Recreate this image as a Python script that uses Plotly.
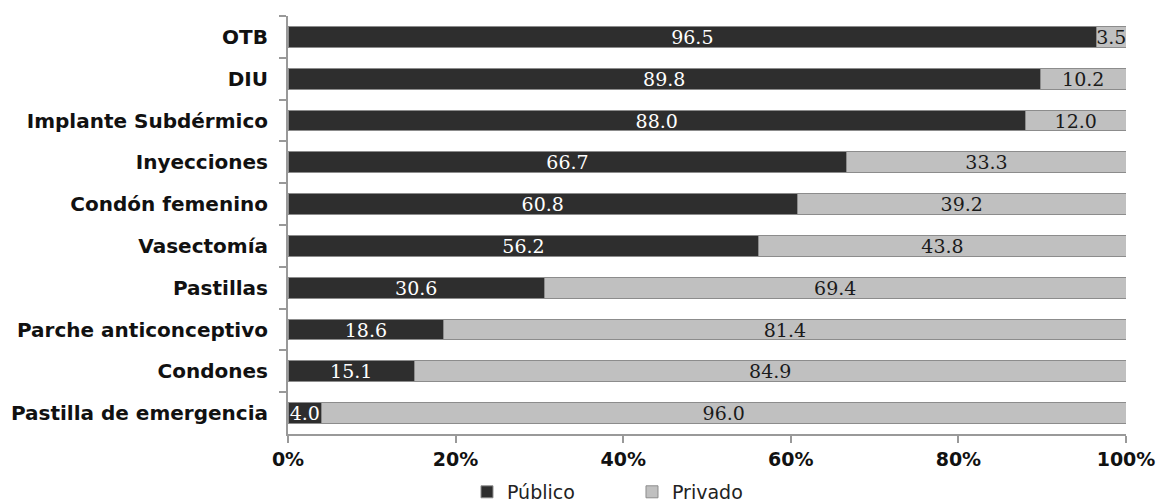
import plotly.graph_objects as go

categories = ["OTB", "DIU", "Implante Subdérmico", "Inyecciones", "Condón femenino",
              "Vasectomía", "Pastillas", "Parche anticonceptivo", "Condones",
              "Pastilla de emergencia"]
publico = [96.5, 89.8, 88.0, 66.7, 60.8, 56.2, 30.6, 18.6, 15.1, 4.0]
privado = [3.5, 10.2, 12.0, 33.3, 39.2, 43.8, 69.4, 81.4, 84.9, 96.0]
x_ticks = [0, 20, 40, 60, 80, 100]
x_tick_labels = ["0%", "20%", "40%", "60%", "80%", "100%"]

fig = go.Figure()
fig.add_trace(go.Bar(
    y=categories, x=publico, orientation="h", name="Público",
    marker=dict(color="#2e2e2e", line=dict(color="#8c8c8c", width=1)),
    text=[f"{v:.1f}" for v in publico], textposition="inside",
    insidetextanchor="middle", textangle=0,
    textfont=dict(family="DejaVu Serif", size=19, color="white"),
    width=0.5,
))
fig.add_trace(go.Bar(
    y=categories, x=privado, orientation="h", name="Privado",
    marker=dict(color="#c0c0c0", line=dict(color="#8c8c8c", width=1)),
    text=[f"{v:.1f}" for v in privado], textposition="inside",
    insidetextanchor="middle", textangle=0,
    textfont=dict(family="DejaVu Serif", size=19, color="#1a1a1a"),
    width=0.5,
))

fig.update_layout(
    barmode="stack",
    width=1159, height=502,
    margin=dict(l=288, r=33, t=16, b=68, autoexpand=False),
    plot_bgcolor="white", paper_bgcolor="white",
    uniformtext=dict(minsize=19, mode="show"),
    legend=dict(orientation="h", x=0.2136, xanchor="left",
                y=0.02, yanchor="middle", yref="container",
                font=dict(family="DejaVu Sans", size=19, color="#222"),
                itemwidth=30, traceorder="normal",
                entrywidth=120, entrywidthmode="pixels"),
    showlegend=True,
)
fig.update_xaxes(
    range=[0, 100], tickvals=x_ticks, ticktext=x_tick_labels, automargin=False,
    showgrid=False, zeroline=False, showline=True, linecolor="#999", linewidth=2,
    ticks="outside", ticklen=7, tickcolor="#999", tickwidth=2,
    tickfont=dict(family="DejaVu Sans", size=19, color="#111", weight="bold"),
)
fig.update_yaxes(
    categoryorder="array", categoryarray=categories, autorange="reversed",
    automargin=False,
    showgrid=False, showline=True, linecolor="#999", linewidth=2,
    ticks="outside", ticklen=7, tickcolor="#999", tickwidth=2, tickson="boundaries",
    tickfont=dict(family="DejaVu Sans", size=20, color="#111", weight="bold"),
    ticklabelstandoff=14,
)
fig.write_html("out.html")
